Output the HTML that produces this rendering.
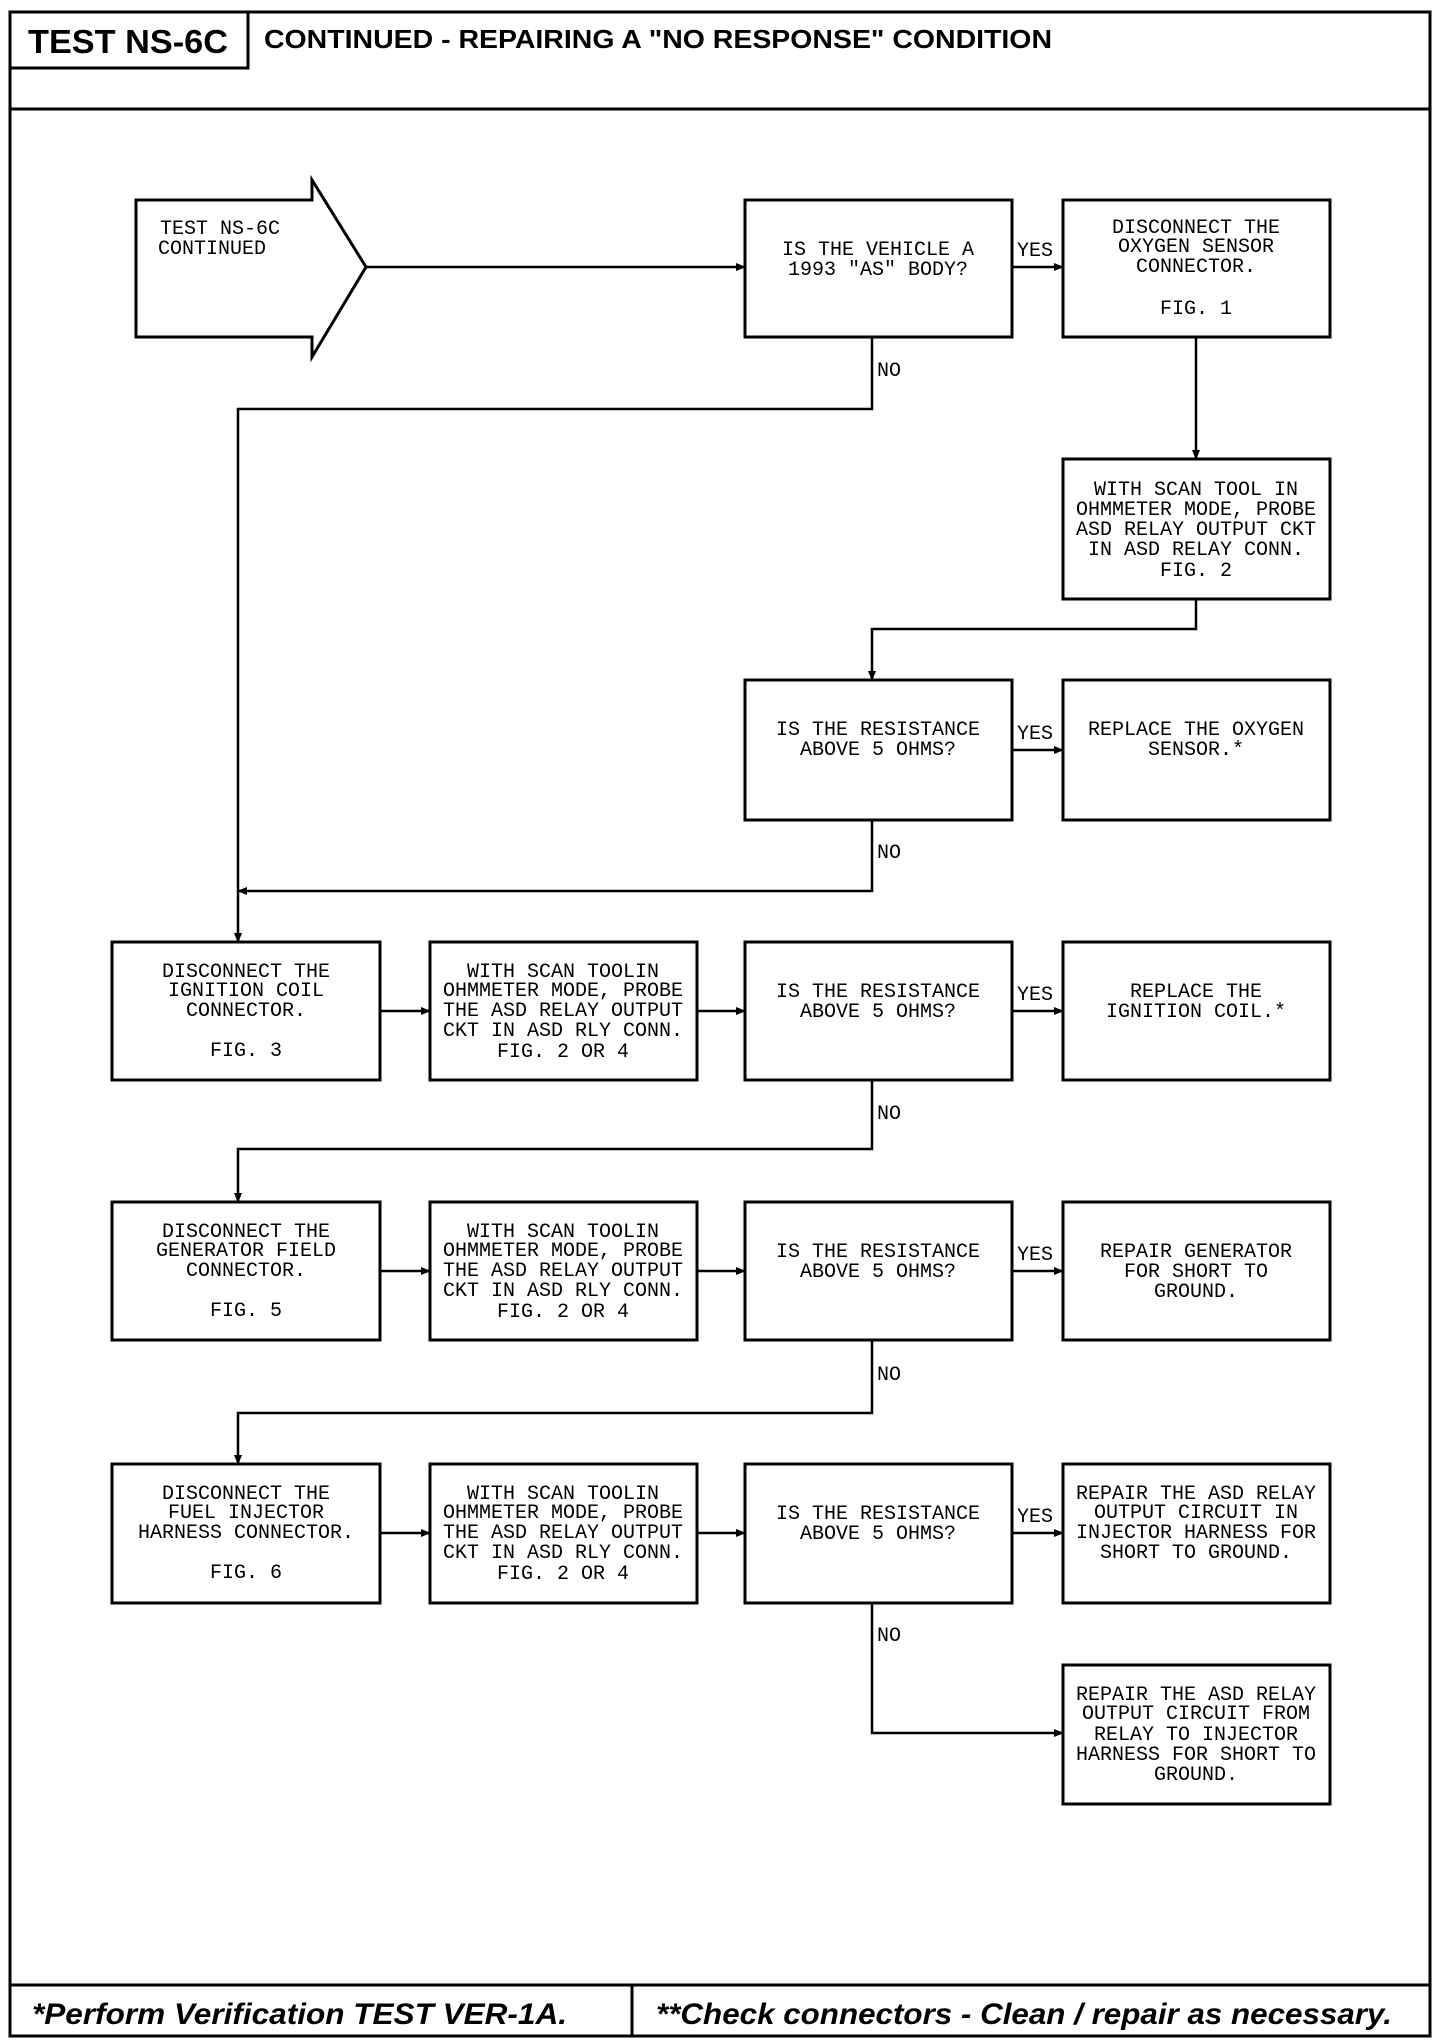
<!DOCTYPE html>
<html><head><meta charset="utf-8"><style>
html,body{margin:0;padding:0;background:#fff;}
svg{display:block;}
.t{font-family:"Liberation Mono",monospace;font-size:20px;fill:#000;text-anchor:middle;}
.l{font-family:"Liberation Mono",monospace;font-size:20px;fill:#000;}
</style></head><body>
<svg width="1440" height="2044" viewBox="0 0 1440 2044" xmlns="http://www.w3.org/2000/svg">
<defs>
<marker id="a" markerWidth="10" markerHeight="10" refX="9" refY="5" orient="auto" markerUnits="userSpaceOnUse">
<path d="M0,1 L10,5 L0,9 Z" fill="#000"/></marker>
</defs>
<g fill="none" stroke="#000" stroke-width="3">
<!-- outer frame -->
<rect x="10" y="12" width="1420" height="2024"/>
<line x1="10" y1="109" x2="1430" y2="109"/>
<polyline points="248,12 248,68 10,68"/>
<line x1="10" y1="1985" x2="1430" y2="1985"/>
<line x1="632" y1="1985" x2="632" y2="2036"/>
<!-- start arrow -->
<path d="M136,200 L312,200 L312,180 L366,267 L312,357 L312,337 L136,337 Z"/>
<!-- boxes -->
<rect x="745" y="200" width="267" height="137"/>
<rect x="1063" y="200" width="267" height="137"/>
<rect x="1063" y="459" width="267" height="140"/>
<rect x="745" y="680" width="267" height="140"/>
<rect x="1063" y="680" width="267" height="140"/>
<rect x="112" y="942" width="268" height="138"/>
<rect x="430" y="942" width="267" height="138"/>
<rect x="745" y="942" width="267" height="138"/>
<rect x="1063" y="942" width="267" height="138"/>
<rect x="112" y="1202" width="268" height="138"/>
<rect x="430" y="1202" width="267" height="138"/>
<rect x="745" y="1202" width="267" height="138"/>
<rect x="1063" y="1202" width="267" height="138"/>
<rect x="112" y="1464" width="268" height="139"/>
<rect x="430" y="1464" width="267" height="139"/>
<rect x="745" y="1464" width="267" height="139"/>
<rect x="1063" y="1464" width="267" height="139"/>
<rect x="1063" y="1665" width="267" height="139"/>
</g>
<g fill="none" stroke="#000" stroke-width="2.5">
<line x1="366" y1="267" x2="745" y2="267" marker-end="url(#a)"/>
<line x1="1012" y1="267" x2="1063" y2="267" marker-end="url(#a)"/>
<line x1="1196" y1="337" x2="1196" y2="459" marker-end="url(#a)"/>
<polyline points="1196,599 1196,629 872,629 872,680" marker-end="url(#a)"/>
<line x1="1012" y1="750" x2="1063" y2="750" marker-end="url(#a)"/>
<polyline points="872,337 872,409 238,409 238,942" marker-end="url(#a)"/>
<polyline points="872,820 872,891 238,891" marker-end="url(#a)"/>
<line x1="380" y1="1011" x2="430" y2="1011" marker-end="url(#a)"/>
<line x1="697" y1="1011" x2="745" y2="1011" marker-end="url(#a)"/>
<line x1="1012" y1="1011" x2="1063" y2="1011" marker-end="url(#a)"/>
<polyline points="872,1080 872,1149 238,1149 238,1202" marker-end="url(#a)"/>
<line x1="380" y1="1271" x2="430" y2="1271" marker-end="url(#a)"/>
<line x1="697" y1="1271" x2="745" y2="1271" marker-end="url(#a)"/>
<line x1="1012" y1="1271" x2="1063" y2="1271" marker-end="url(#a)"/>
<polyline points="872,1340 872,1413 238,1413 238,1464" marker-end="url(#a)"/>
<line x1="380" y1="1533" x2="430" y2="1533" marker-end="url(#a)"/>
<line x1="697" y1="1533" x2="745" y2="1533" marker-end="url(#a)"/>
<line x1="1012" y1="1533" x2="1063" y2="1533" marker-end="url(#a)"/>
<polyline points="872,1603 872,1733 1063,1733" marker-end="url(#a)"/>
</g>
<!-- header text -->
<text x="28" y="53" font-family="Liberation Sans,sans-serif" font-weight="bold" font-size="33" textLength="200" lengthAdjust="spacingAndGlyphs">TEST NS-6C</text>
<text x="264" y="48" font-family="Liberation Sans,sans-serif" font-weight="bold" font-size="26" textLength="788" lengthAdjust="spacingAndGlyphs">CONTINUED - REPAIRING A "NO RESPONSE" CONDITION</text>
<!-- footer -->
<text x="32" y="2024" font-family="Liberation Sans,sans-serif" font-weight="bold" font-style="italic" font-size="30" textLength="535" lengthAdjust="spacingAndGlyphs">*Perform Verification TEST VER-1A.</text>
<text x="656" y="2024" font-family="Liberation Sans,sans-serif" font-weight="bold" font-style="italic" font-size="30" textLength="736" lengthAdjust="spacingAndGlyphs">**Check connectors - Clean / repair as necessary.</text>
<!-- labels -->
<text class="l" x="160" y="234">TEST NS-6C</text>
<text class="l" x="158" y="254">CONTINUED</text>
<text class="l" x="1017" y="256">YES</text>
<text class="l" x="1017" y="739">YES</text>
<text class="l" x="1017" y="1000">YES</text>
<text class="l" x="1017" y="1260">YES</text>
<text class="l" x="1017" y="1522">YES</text>
<text class="l" x="877" y="376">NO</text>
<text class="l" x="877" y="858">NO</text>
<text class="l" x="877" y="1119">NO</text>
<text class="l" x="877" y="1380">NO</text>
<text class="l" x="877" y="1641">NO</text>
<!-- box texts -->
<text class="t" x="878" y="255">IS THE VEHICLE A</text>
<text class="t" x="878" y="275">1993 "AS" BODY?</text>
<text class="t" x="1196" y="233">DISCONNECT THE</text>
<text class="t" x="1196" y="252">OXYGEN SENSOR</text>
<text class="t" x="1196" y="272">CONNECTOR.</text>
<text class="t" x="1196" y="314">FIG. 1</text>
<text class="t" x="1196" y="495">WITH SCAN TOOL IN</text>
<text class="t" x="1196" y="515">OHMMETER MODE, PROBE</text>
<text class="t" x="1196" y="535">ASD RELAY OUTPUT CKT</text>
<text class="t" x="1196" y="555">IN ASD RELAY CONN.</text>
<text class="t" x="1196" y="576">FIG. 2</text>
<text class="t" x="878" y="735">IS THE RESISTANCE</text>
<text class="t" x="878" y="755">ABOVE 5 OHMS?</text>
<text class="t" x="1196" y="735">REPLACE THE OXYGEN</text>
<text class="t" x="1196" y="755">SENSOR.*</text>
<!-- row 4 -->
<text class="t" x="246" y="977">DISCONNECT THE</text>
<text class="t" x="246" y="996">IGNITION COIL</text>
<text class="t" x="246" y="1016">CONNECTOR.</text>
<text class="t" x="246" y="1056">FIG. 3</text>
<text class="t" x="563" y="977">WITH SCAN TOOLIN</text>
<text class="t" x="563" y="996">OHMMETER MODE, PROBE</text>
<text class="t" x="563" y="1016">THE ASD RELAY OUTPUT</text>
<text class="t" x="563" y="1036">CKT IN ASD RLY CONN.</text>
<text class="t" x="563" y="1057">FIG. 2 OR 4</text>
<text class="t" x="878" y="997">IS THE RESISTANCE</text>
<text class="t" x="878" y="1017">ABOVE 5 OHMS?</text>
<text class="t" x="1196" y="997">REPLACE THE</text>
<text class="t" x="1196" y="1017">IGNITION COIL.*</text>
<!-- row 5 -->
<text class="t" x="246" y="1237">DISCONNECT THE</text>
<text class="t" x="246" y="1256">GENERATOR FIELD</text>
<text class="t" x="246" y="1276">CONNECTOR.</text>
<text class="t" x="246" y="1316">FIG. 5</text>
<text class="t" x="563" y="1237">WITH SCAN TOOLIN</text>
<text class="t" x="563" y="1256">OHMMETER MODE, PROBE</text>
<text class="t" x="563" y="1276">THE ASD RELAY OUTPUT</text>
<text class="t" x="563" y="1296">CKT IN ASD RLY CONN.</text>
<text class="t" x="563" y="1317">FIG. 2 OR 4</text>
<text class="t" x="878" y="1257">IS THE RESISTANCE</text>
<text class="t" x="878" y="1277">ABOVE 5 OHMS?</text>
<text class="t" x="1196" y="1257">REPAIR GENERATOR</text>
<text class="t" x="1196" y="1277">FOR SHORT TO</text>
<text class="t" x="1196" y="1297">GROUND.</text>
<!-- row 6 -->
<text class="t" x="246" y="1499">DISCONNECT THE</text>
<text class="t" x="246" y="1518">FUEL INJECTOR</text>
<text class="t" x="246" y="1538">HARNESS CONNECTOR.</text>
<text class="t" x="246" y="1578">FIG. 6</text>
<text class="t" x="563" y="1499">WITH SCAN TOOLIN</text>
<text class="t" x="563" y="1518">OHMMETER MODE, PROBE</text>
<text class="t" x="563" y="1538">THE ASD RELAY OUTPUT</text>
<text class="t" x="563" y="1558">CKT IN ASD RLY CONN.</text>
<text class="t" x="563" y="1579">FIG. 2 OR 4</text>
<text class="t" x="878" y="1519">IS THE RESISTANCE</text>
<text class="t" x="878" y="1539">ABOVE 5 OHMS?</text>
<text class="t" x="1196" y="1499">REPAIR THE ASD RELAY</text>
<text class="t" x="1196" y="1518">OUTPUT CIRCUIT IN</text>
<text class="t" x="1196" y="1538">INJECTOR HARNESS FOR</text>
<text class="t" x="1196" y="1558">SHORT TO GROUND.</text>
<!-- row 7 -->
<text class="t" x="1196" y="1700">REPAIR THE ASD RELAY</text>
<text class="t" x="1196" y="1719">OUTPUT CIRCUIT FROM</text>
<text class="t" x="1196" y="1740">RELAY TO INJECTOR</text>
<text class="t" x="1196" y="1760">HARNESS FOR SHORT TO</text>
<text class="t" x="1196" y="1780">GROUND.</text>
</svg>
</body></html>
